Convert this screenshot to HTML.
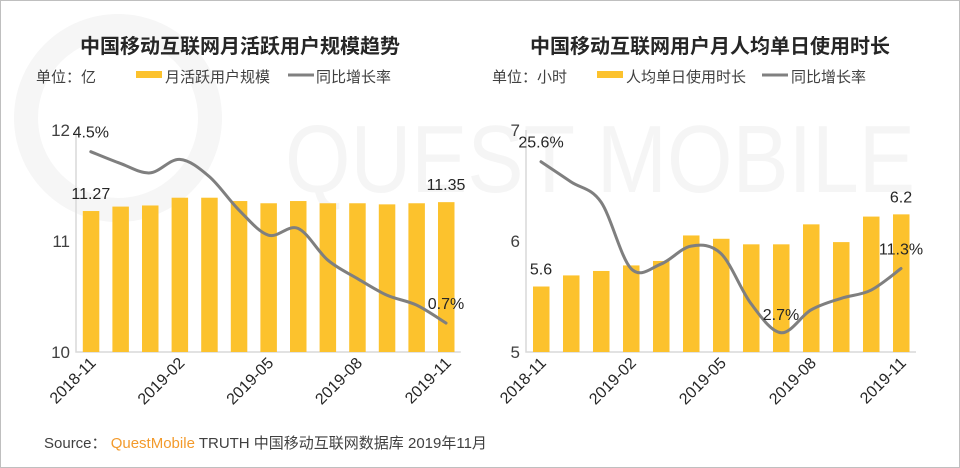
<!DOCTYPE html>
<html><head><meta charset="utf-8">
<style>
html,body{margin:0;padding:0;background:#fff;}
svg{display:block;font-family:"Liberation Sans","Noto Sans CJK SC",sans-serif;}
</style></head>
<body>
<svg id="c" width="960" height="468" viewBox="0 0 960 468">
<rect x="0.5" y="0.5" width="959" height="467" fill="#fff" stroke="#bfbfbf"/>
<g fill="none" stroke="#f6f6f6">
<circle cx="118" cy="118" r="92" stroke-width="24"/>
<text x="285" y="192" fill="#f5f5f5" stroke="none" font-size="96" textLength="630" lengthAdjust="spacingAndGlyphs">QUEST MOBILE</text>
</g>
<text x="240" y="53" text-anchor="middle" font-size="20" font-weight="bold" fill="#262626">中国移动互联网月活跃用户规模趋势</text>
<text x="36" y="82" font-size="15" fill="#404040">单位：亿</text>
<rect x="136" y="71" width="26" height="7" fill="#fcc22d"/>
<text x="165" y="82" font-size="15" fill="#404040">月活跃用户规模</text>
<line x1="288" y1="75" x2="314" y2="75" stroke="#808080" stroke-width="3"/>
<text x="316" y="82" font-size="15" fill="#404040">同比增长率</text>

<text x="710" y="53" text-anchor="middle" font-size="20" font-weight="bold" fill="#262626">中国移动互联网用户月人均单日使用时长</text>
<text x="492" y="82" font-size="15" fill="#404040">单位：小时</text>
<rect x="597" y="71" width="26" height="7" fill="#fcc22d"/>
<text x="626" y="82" font-size="15" fill="#404040">人均单日使用时长</text>
<line x1="762" y1="75" x2="788" y2="75" stroke="#808080" stroke-width="3"/>
<text x="791" y="82" font-size="15" fill="#404040">同比增长率</text>

<text x="44" y="448" font-size="15" fill="#404040">Source： <tspan fill="#f39a2b">QuestMobile</tspan> TRUTH 中国移动互联网数据库 2019年11月</text>
<g id="left"></g>
<g id="right"></g>
</svg>
<script>
const months = ["2018-11","2018-12","2019-01","2019-02","2019-03","2019-04","2019-05","2019-06","2019-07","2019-08","2019-09","2019-10","2019-11"];
const mauValues = [11.27,11.31,11.32,11.39,11.39,11.36,11.34,11.36,11.34,11.34,11.33,11.34,11.35];
const mauGrowth = [4.5,4.24,4.03,4.33,3.95,3.21,2.65,2.80,2.10,1.69,1.32,1.10,0.7];
const mauTicks = [10,11,12];
const timeValues = [5.59,5.69,5.73,5.78,5.82,6.05,6.02,5.97,5.97,6.15,5.99,6.22,6.24];
const timeGrowth = [25.6,22.9,20.2,11.3,11.9,14.3,13.3,6.6,2.7,5.75,7.3,8.4,11.3];
const timeTicks = [5,6,7];
const shownLabels = [0,3,6,9,12];
const NS = "http://www.w3.org/2000/svg";
function mk(tag, attrs, parent){const e=document.createElementNS(NS,tag);for(const k in attrs)e.setAttribute(k,attrs[k]);parent.appendChild(e);return e;}
function smooth(pts){let d="M"+pts[0][0]+","+pts[0][1];for(let i=0;i<pts.length-1;i++){const p0=pts[i-1]||pts[i],p1=pts[i],p2=pts[i+1],p3=pts[i+2]||p2;const c1x=p1[0]+(p2[0]-p0[0])/6,c1y=p1[1]+(p2[1]-p0[1])/6,c2x=p2[0]-(p3[0]-p1[0])/6,c2y=p2[1]-(p3[1]-p1[1])/6;d+=" C"+c1x+","+c1y+" "+c2x+","+c2y+" "+p2[0]+","+p2[1];}return d;}
function draw(g, cfg){
  const x0=cfg.x0, step=cfg.step, yB=352, yT=130;
  const y=v=>yB-(v-cfg.ticks[0])/(cfg.ticks[cfg.ticks.length-1]-cfg.ticks[0])*(yB-yT);
  const cx=i=>x0+step*(i+0.5);
  const gy=v=>cfg.gA+(v-cfg.gRef)*cfg.gK;
  cfg.ticks.forEach(t=>{const e=mk("text",{x:x0-6,y:y(t)+6,"text-anchor":"end","font-size":17,fill:"#404040"},g);e.textContent=t;
    
    });
  const ax=mk("path",{d:`M${x0},${yB-222} V${yB} H${x0+step*months.length}`,stroke:"#d9d9d9",fill:"none","stroke-width":1.5},g);
  
  
  cfg.vals.forEach((v,i)=>{const b=mk("rect",{x:cx(i)-8,y:y(v),width:16.5,height:yB-y(v),fill:"#fcc22d"},g);
    
    });
  const pts=cfg.growth.map((v,i)=>[cx(i),gy(v)]);
  const ln=mk("path",{d:smooth(pts),stroke:"#7f7f7f","stroke-width":3,fill:"none","stroke-linecap":"round"},g);
  
  
  const n=months.length-1;
  const labs=[[cx(0),y(cfg.vals[0])-12,cfg.vals[0].toFixed(cfg.dp)],[cx(n),y(cfg.vals[n])-12,cfg.vals[n].toFixed(cfg.dp)],
    [cx(0),gy(cfg.growth[0])-14,cfg.growth[0]+"%"],[cx(cfg.minI),gy(cfg.growth[cfg.minI])+cfg.minOff,cfg.growth[cfg.minI]+"%"],[cx(n),gy(cfg.growth[n])-14,cfg.growth[n]+"%"]];
  if(cfg.dropMin) labs.splice(3,1);
  labs.forEach(l=>{const e=mk("text",{x:l[0],y:l[1],"text-anchor":"middle","font-size":16,fill:"#262626"},g);e.textContent=l[2];
    
    });
  shownLabels.forEach(i=>{const px=cx(i)+6,py=364;const e=mk("text",{x:px,y:py,"text-anchor":"end","font-size":16,fill:"#262626",transform:`rotate(-45 ${px} ${py})`},g);e.textContent=months[i];
    
    });
}
draw(document.getElementById('left'),{x0:76,step:29.6,vals:mauValues,growth:mauGrowth,ticks:mauTicks,gA:151.7,gRef:4.5,gK:-45.1,dp:2,minI:12,minOff:-14,dropMin:true});
draw(document.getElementById('right'),{x0:526,step:30,vals:timeValues,growth:timeGrowth,ticks:timeTicks,gA:161.7,gRef:25.6,gK:-7.47,dp:1,minI:8,minOff:-13,dropMin:false});
</script>
</body></html>
